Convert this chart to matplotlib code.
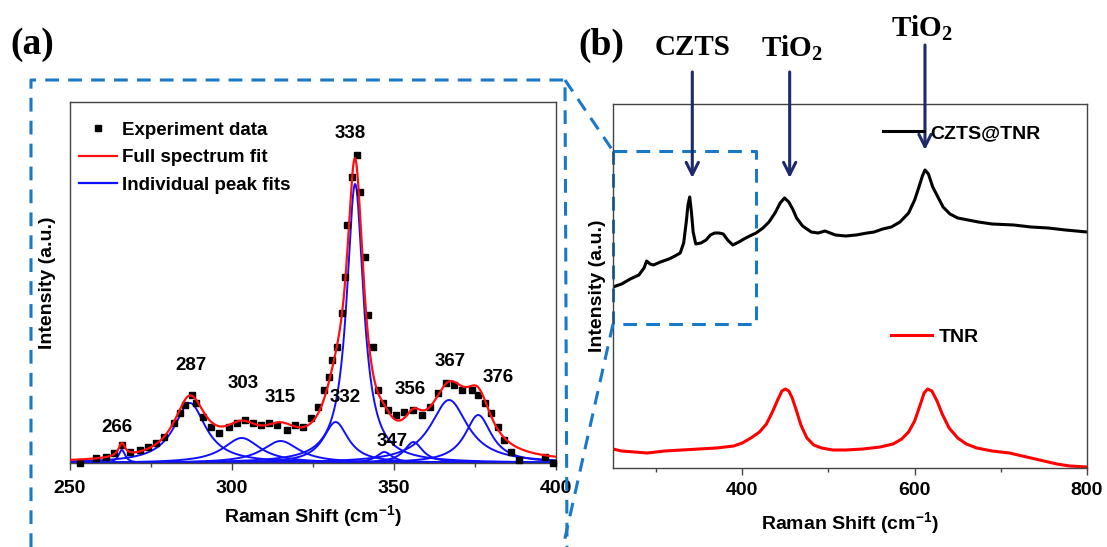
import matplotlib
matplotlib.use("Agg")
import matplotlib.pyplot as plt
import numpy as np
from matplotlib.lines import Line2D

# ---- panel (a): CZTS Raman, experiment points (cm-1, a.u.) ----
exp_x = [253, 258, 261, 263.5, 266, 268.5, 271.5, 274, 276.5, 279, 282, 284, 285.5,
         287.5, 289, 291, 293.5, 296, 299, 301.5, 304, 306.5, 309, 311.5, 314, 317,
         319.5, 322, 324.5, 326.5, 328.5, 330, 331, 332.5, 334, 335, 335.5, 337,
         338.5, 339.5, 341, 342, 343.5, 345, 346.5, 348, 350.5, 353, 356, 358.5,
         361, 363.5, 366, 368.5, 371, 374, 376, 378, 380, 382, 384, 386, 388.5,
         396.5, 399]
exp_y = [0, 5, 6, 10, 18, 11, 13, 16, 20, 26, 40, 50, 58, 68, 60, 46, 36, 30, 36,
         40, 43, 40, 38, 40, 38, 33, 38, 36, 45, 56, 73, 86, 103, 116, 150, 186,
         238, 286, 308, 271, 206, 148, 116, 73, 60, 53, 48, 51, 53, 48, 56, 70, 80,
         78, 73, 73, 68, 60, 50, 36, 23, 11, 3, 6, 0]

# fitted Lorentzian peaks: centre, height, FWHM
peak_pos = [266, 287, 303, 315, 332, 338, 347, 356, 367, 376]
peak_height = [13, 60, 25, 22, 41, 279, 11, 21, 63, 48]
peak_fwhm = [2.5, 12, 14, 14, 9.5, 6.3, 6, 7, 14, 10]

# peak label positions
label_x = [264.5, 287.3, 303.4, 314.8, 334.9, 336.4, 349.4, 354.9, 367.3, 382.1]
label_y = [35, 98, 79, 66, 66, 330, 21, 73, 102, 86]

# ---- panel (b): spectra ----
czts_x = [250, 260, 270, 280, 286, 289, 293, 297, 305, 315, 322, 328, 332, 335, 337,
          339, 341, 343, 346, 352, 358, 363, 368, 373, 378, 383, 389, 396, 404, 411,
          416, 424, 431, 438, 444, 449, 454, 459, 463, 470, 480, 488, 496, 502, 508,
          520, 532, 545, 553, 563, 573, 583, 593, 600, 605, 609, 612, 616, 621, 627,
          633, 641, 650, 662, 674, 690, 715, 735, 755, 775, 800]
czts_y = [181, 184, 189, 193, 200, 207, 204, 203, 206, 209, 212, 215, 225, 246, 263,
          271, 256, 236, 224, 225, 228, 233, 235, 235, 234, 228, 223, 226, 230, 233,
          235, 240, 246, 255, 265, 270, 266, 258, 250, 242, 236, 235, 237, 235, 233,
          232, 233, 235, 236, 239, 241, 246, 255, 268, 281, 292, 298, 294, 281, 271,
          261, 254, 250, 248, 246, 244, 243, 241, 240, 238, 236]
tnr_x = [250, 260, 275, 290, 310, 330, 350, 370, 390, 400, 410, 420, 428, 435, 441,
         446, 450, 454, 458, 463, 468, 475, 483, 492, 505, 520, 540, 560, 575, 585,
         593, 600, 606, 611, 615, 620, 626, 632, 640, 650, 660, 672, 690, 710, 730,
         750, 765, 780, 800]
tnr_y = [19, 17, 16, 15, 17, 18, 19, 20, 22, 25, 30, 36, 44, 56, 68, 77, 79, 77, 70,
         57, 43, 30, 23, 20, 18, 18, 19, 21, 24, 29, 36, 47, 62, 75, 79, 77, 67, 54,
         40, 30, 24, 20, 17, 15, 11, 7, 4, 2, 1]

W, H = 1107, 547
plt.rcParams['font.family'] = ['Liberation Sans', 'DejaVu Sans']
plt.rcParams['font.weight'] = 'bold'
plt.rcParams['axes.labelweight'] = 'bold'

fig = plt.figure(figsize=(W / 100, H / 100), dpi=100)
axa = fig.add_axes([70 / W, 1 - 463 / H, 486 / W, 361 / H])
axb = fig.add_axes([613 / W, 1 - 468 / H, 474 / W, 364 / H])

# panel a
xx = np.linspace(250, 400, 1500)
total = np.zeros_like(xx)
for c, h, w in zip(peak_pos, peak_height, peak_fwhm):
    prof = h / (1 + (2 * (xx - c) / w) ** 2)
    total += prof
    axa.plot(xx, prof, color='#1010ff', lw=1.4)
axa.plot(exp_x, exp_y, 's', color='black', ms=5, clip_on=False, zorder=3)
axa.plot(xx, total, color='#ff1010', lw=1.6, zorder=4)
for t, x, y in zip(peak_pos, label_x, label_y):
    axa.text(x, y, str(t), ha='center', va='center', fontsize=13.5)

handles = [Line2D([], [], ls='none', marker='s', color='black', ms=5),
           Line2D([], [], color='#ff1010', lw=1.6),
           Line2D([], [], color='#1010ff', lw=1.6)]
axa.legend(handles, ['Experiment data', 'Full spectrum fit', 'Individual peak fits'],
           loc='upper left', bbox_to_anchor=(0, 0.972), frameon=False,
           prop={'size': 13.5, 'weight': 'bold'},
           handlelength=2.0, handletextpad=0.3, labelspacing=0.56,
           borderaxespad=0.2, borderpad=0.3)
axa.set_xlim(250, 400)
axa.set_ylim(0, 361)
axa.set_xticks([250, 300, 350, 400])
axa.set_xticks([275, 325, 375], minor=True)
axa.set_yticks([])
axa.set_xlabel('Raman Shift (cm$^{\\mathregular{-1}}$)', fontsize=14, labelpad=5)
axa.set_ylabel('Intensity (a.u.)', fontsize=14, labelpad=10)

# panel b
axb.plot(czts_x, czts_y, color='black', lw=2.2)
axb.plot(tnr_x, tnr_y, color='#ff0000', lw=2.2)
axb.set_xlim(250, 800)
axb.set_ylim(0, 364)
axb.set_xticks([400, 600, 800])
axb.set_xticks([300, 500, 700], minor=True)
axb.set_yticks([])
axb.set_xlabel('Raman Shift (cm$^{\\mathregular{-1}}$)', fontsize=14, labelpad=8)
axb.set_ylabel('Intensity (a.u.)', fontsize=14, labelpad=5)

leg1 = axb.legend([Line2D([], [], color='black', lw=2.2)], ['CZTS@TNR'],
                  loc='center left', bbox_to_anchor=(883 / W, 1 - 133 / H),
                  bbox_transform=fig.transFigure, frameon=False,
                  prop={'size': 14, 'weight': 'bold'}, handlelength=2.1,
                  handletextpad=0.35, borderpad=0, borderaxespad=0)
axb.add_artist(leg1)
axb.legend([Line2D([], [], color='#ff0000', lw=2.2)], ['TNR'],
           loc='center left', bbox_to_anchor=(891 / W, 1 - 337 / H),
           bbox_transform=fig.transFigure, frameon=False,
           prop={'size': 14, 'weight': 'bold'}, handlelength=2.1,
           handletextpad=0.35, borderpad=0, borderaxespad=0)

for ax, p in ((axa, 7), (axb, 5)):
    for s in ax.spines.values():
        s.set_color('#444444')
        s.set_linewidth(1.0)
    ax.tick_params(axis='x', which='major', direction='out', length=5, width=1,
                   labelsize=14, pad=p, color='#444444')
    ax.tick_params(axis='x', which='minor', direction='out', length=3, width=1,
                   color='#444444')

# arrows and peak names
navy = '#1c2a6b'
arrow_x = [342, 455, 612]
arrow_top = [396, 396, 423]
arrow_tip = [290, 290, 318]
arrow_text = ['CZTS', 'TiO$_\\mathregular{2}$', 'TiO$_\\mathregular{2}$']
text_x = [342, 458, 608]
text_y = [420, 420, 440]
for x, y0, y1 in zip(arrow_x, arrow_top, arrow_tip):
    axb.annotate('', xy=(x, y1), xytext=(x, y0), annotation_clip=False,
                 arrowprops=dict(arrowstyle='->', color=navy, lw=2.2,
                                 mutation_scale=22, shrinkA=0, shrinkB=0))
for t, x, y in zip(arrow_text, text_x, text_y):
    axb.text(x, y, t, ha='center', va='center', fontsize=21, clip_on=False,
             family='Liberation Serif', weight='bold')

# zoom box in panel b
blue = '#1a78c8'
dash = dict(color=blue, lw=2.2, ls=(0, (4.5, 3)))
axb.plot([250, 416, 416, 250, 250], [317, 317, 144, 144, 317], clip_on=False, **dash)

# dashed frame around panel a and connecting lines
def fl(xs, ys):
    fig.add_artist(Line2D([x / W for x in xs], [1 - y / H for y in ys], **dash))

fl([31, 31, 565, 567], [547, 80, 80, 547])
fl([565, 613], [80, 151])
fl([613, 563], [324, 547])

fig.text(10 / W, 1 - 45 / H, '(a)', fontsize=27, family='Liberation Serif',
         weight='bold', va='center')
fig.text(578 / W, 1 - 45 / H, '(b)', fontsize=27, family='Liberation Serif',
         weight='bold', va='center')

fig.savefig('out.png', dpi=100)
